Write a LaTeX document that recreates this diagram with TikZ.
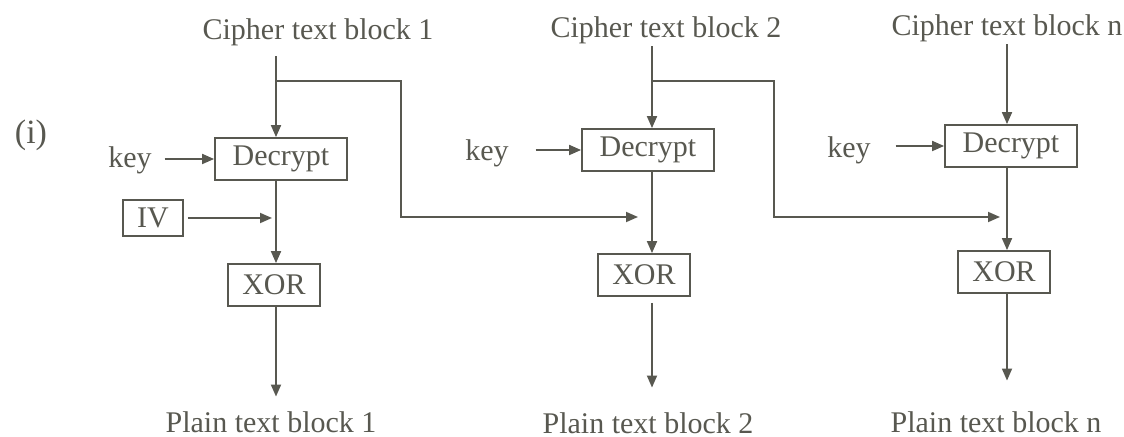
\documentclass[tikz,border=0pt]{standalone}
\usepackage{fontspec}
\setmainfont{Liberation Serif}
\usetikzlibrary{arrows.meta, positioning}
\definecolor{ink}{RGB}{88,88,80}

\begin{document}
\begin{tikzpicture}[x=0.5pt, y=-0.5pt, >={Triangle[length=6pt,width=5pt]}, color=ink, line width=0.9pt]
	\tikzstyle{format} = [draw, minimum width=66pt, minimum height=21pt, inner sep=0pt, font=\fontsize{15}{18}\selectfont]
	\tikzstyle{txt} = [inner sep=1pt, font=\fontsize{15}{18}\selectfont]

	\useasboundingbox (0,0) rectangle (1124,437);

	\node[txt, font=\fontsize{17}{20}\selectfont] (tag) at (31,135) {(i)};

	% first block
	\path
		node[txt] (ct1) at (318,32) {Cipher text block 1}
		node[format] (d1) at (281,159) {Decrypt}
		node[txt] (k1) at (130,160) {key}
		node[format, minimum width=30pt, minimum height=18pt] (iv) at (153,218) {IV}
		node[format, minimum width=46pt] (x1) at (274,285) {XOR}
		node[txt] (pt1) at (271,422) {Plain text block 1}
	;
	\coordinate (b1) at (276,81);
	\coordinate (j1) at (272,218);
	\coordinate (j2) at (638,217);

	\draw[->, shorten <=4pt] (ct1.south -| b1) -- (b1 |- d1.north);
	\draw[->, shorten <=5pt] (k1.east |- d1) -- (d1.west);
	\draw[->] (b1 |- d1.south) -- (b1 |- x1.north);
	\draw[->, shorten <=2pt] (iv) -- (j1);
	\draw[->, shorten >=6pt] (b1 |- x1.south) -- (b1 |- pt1.north);
	\draw[->] (b1) -- ++(125,0) |- (j2);

	% second block
	\path
		node[txt] (ct2) at (666,30) {Cipher text block 2}
		node[format] (d2) at (648,150) {Decrypt}
		node[txt] (k2) at (487,153) {key}
		node[format, minimum width=46pt] (x2) at (644,275) {XOR}
		node[txt] (pt2) at (648,423) {Plain text block 2}
	;
	\coordinate (b2) at (652,81);
	\coordinate (j3) at (1000,217);

	\draw[->] (ct2.south -| b2) -- (b2 |- d2.north);
	\draw[->, shorten <=12pt] (k2.east |- d2) -- (d2.west);
	\draw[->] (b2 |- d2.south) -- (b2 |- x2.north);
	\draw[->, shorten <=3pt, shorten >=11pt] (b2 |- x2.south) -- (b2 |- pt2.north);
	\draw[->] (b2) -- ++(122,0) |- (j3);

	% last block
	\path
		node[txt] (ct3) at (1007,28) {Cipher text block n}
		node[format] (d3) at (1011,146) {Decrypt}
		node[txt] (k3) at (849,150) {key}
		node[format, minimum width=46pt] (x3) at (1004,272) {XOR}
		node[txt] (pt3) at (996,422) {Plain text block n}
	;
	\coordinate (b3) at (1007,81);

	\draw[->] (ct3.south -| b3) -- (b3 |- d3.north);
	\draw[->, shorten <=11pt] (k3.east |- d3) -- (d3.west);
	\draw[->] (b3 |- d3.south) -- (b3 |- x3.north);
	\draw[->, shorten >=14pt] (b3 |- x3.south) -- (b3 |- pt3.north);
\end{tikzpicture}
\end{document}
